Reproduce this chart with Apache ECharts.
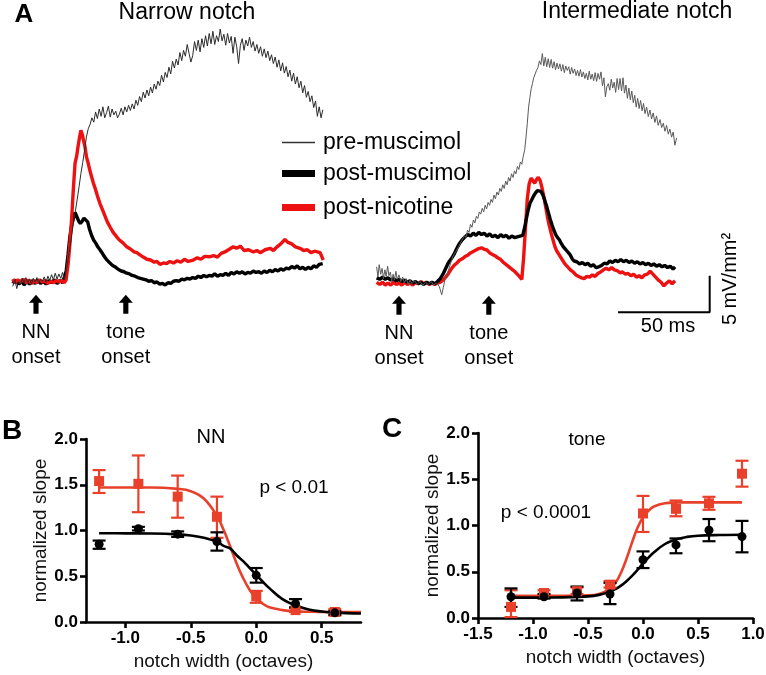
<!DOCTYPE html>
<html>
<head>
<meta charset="utf-8">
<script src="https://cdn.jsdelivr.net/npm/echarts@6/dist/echarts.min.js"></script>
<style>html,body{margin:0;padding:0;background:#fff}#c{width:766px;height:675px}</style>
</head>
<body>
<div id="c"></div>
<script>
// ---------- Panel A data (time in ms from NN onset, response in mV/mm^2) ----------
const preL = [[-12.7,-0.6],[-11.5,0.3],[-10.5,-0.9],[-9.5,0.1],[-8.5,-0.4],[-7.5,0.5],[-6.5,-0.2],[-5.5,0.6],[-4.5,-0.1],[-3.5,0.4],[-2.5,-0.3],[-1.5,0.5],[-0.5,0.0],[0.5,0.6],[1.5,-0.2],[2.5,0.4],[3.5,0.1],[4.5,0.7],[5.5,0.0],[6.5,0.8],[7.5,0.2],[8.5,1.0],[9.5,0.3],[10.5,1.2],[11.5,0.4],[12.5,1.1],[13.5,0.5],[14.5,1.3],[15.5,0.3],[16.5,1.5],[17.5,3.2],[18.5,4.6],[19.5,6.5],[20.5,8.2],[21.5,9.7],[22.5,11.3],[23.5,13.0],[24.5,14.8],[25.5,16.3],[26.5,18.0],[27.5,19.8],[28.5,20.9],[29.5,21.5],[30.5,22.4],[31.5,21.8],[32.5,23.2],[33.5,22.3],[34.5,23.6],[35.5,22.6],[36.5,23.9],[37.5,22.4],[38.5,23.1],[39.5,24.0],[40.5,22.5],[41.5,23.6],[42.5,22.8],[43.5,23.3],[44.5,22.4],[45.5,22.9],[46.5,23.7],[47.5,22.8],[48.5,23.9],[49.5,23.2],[50.5,24.1],[51.5,23.4],[52.5,24.3],[53.5,23.6],[54.5,24.8],[55.5,24.1],[56.5,25.3],[57.5,24.6],[58.5,25.9],[59.5,25.1],[60.5,26.2],[61.5,25.4],[62.5,26.6],[63.5,25.8],[64.5,27.0],[65.5,26.3],[66.5,27.4],[67.5,26.8],[68.5,28.2],[69.5,27.3],[70.5,28.6],[71.5,27.9],[72.5,29.3],[73.5,28.4],[74.5,30.1],[75.5,29.2],[76.5,30.4],[77.5,29.6],[78.5,31.3],[79.5,30.2],[80.5,31.6],[81.5,30.8],[82.5,32.4],[83.5,31.2],[84.5,30.0],[85.5,30.9],[86.5,32.8],[87.5,31.6],[88.5,33.0],[89.5,31.4],[90.5,33.2],[91.5,32.0],[92.5,33.6],[93.5,32.2],[94.5,33.9],[95.5,32.5],[96.5,34.2],[97.5,32.4],[98.5,33.6],[99.5,32.8],[100.5,34.5],[101.5,32.9],[102.5,33.8],[103.5,32.3],[104.5,33.9],[105.5,32.6],[106.5,33.5],[107.5,31.2],[108.5,33.4],[109.5,32.1],[110.5,29.8],[111.5,32.3],[112.5,33.2],[113.5,31.6],[114.5,33.0],[115.5,32.2],[116.5,33.4],[117.5,32.0],[118.5,32.8],[119.5,31.5],[120.5,32.4],[121.5,31.2],[122.5,32.1],[123.5,30.8],[124.5,31.8],[125.5,30.6],[126.5,31.5],[127.5,30.2],[128.5,31.0],[129.5,29.8],[130.5,30.7],[131.5,29.3],[132.5,30.3],[133.5,28.8],[134.5,29.9],[135.5,28.5],[136.5,29.4],[137.5,28.0],[138.5,28.9],[139.5,27.4],[140.5,28.5],[141.5,27.0],[142.5,28.0],[143.5,26.5],[144.5,27.4],[145.5,25.8],[146.5,26.8],[147.5,25.2],[148.5,26.0],[149.5,24.6],[150.5,25.4],[151.5,23.8],[152.5,24.7],[153.5,22.6],[154.5,23.9],[155.5,22.4],[156.5,23.5]];
const postMusL = [[-12.7,-0.2],[-11,0.3],[-9.5,-0.3],[-8,0.2],[-6.5,-0.4],[-5,0.1],[-3.5,-0.3],[-2,0.2],[-0.5,-0.2],[1,0.3],[2.5,-0.2],[4,0.1],[5.5,-0.3],[7,0.2],[8.5,-0.1],[10,0.3],[11.5,-0.2],[13,0.2],[14.5,-0.1],[15.5,0.1],[16.5,1.5],[17.5,3.8],[18.5,6.2],[19.5,7.8],[20.5,8.8],[21.3,9.5],[22.3,8.9],[23.3,8.3],[24.2,8.0],[25.2,8.3],[26.2,8.7],[27.2,8.9],[28.2,8.2],[29.2,7.2],[30.4,6.3],[31.5,5.7],[32.6,5.3],[33.7,4.8],[34.9,4.4],[36,4.0],[37.2,3.5],[38.4,3.1],[39.5,2.8],[40.5,2.6],[42,2.2],[43.5,2.0],[45,1.7],[46.5,1.5],[48,1.4],[49.5,1.2],[51,1.1],[52.5,0.9],[54,0.8],[55.5,0.6],[57,0.5],[58.5,0.4],[60,0.3],[61.5,0.1],[63,0.2],[64.5,-0.1],[66,0.0],[67.5,-0.3],[69,-0.2],[70.5,-0.4],[72,-0.1],[73.5,-0.2],[75,0.1],[76.5,0.2],[78,0.1],[79.5,0.4],[81,0.3],[82.5,0.5],[84,0.4],[85.5,0.6],[87,0.5],[88.5,0.8],[90,0.6],[91.5,0.9],[93,0.7],[94.5,0.9],[96,0.8],[97.5,1.1],[99,0.8],[100.5,1.0],[102,0.9],[103.5,1.2],[105,0.9],[106.5,1.3],[108,1.1],[109.5,1.4],[111,1.2],[112.5,1.4],[114,1.1],[115.5,1.3],[117,1.2],[118.5,1.5],[120,1.3],[121.5,1.4],[123,1.2],[124.5,1.5],[126,1.3],[127.5,1.6],[129,1.4],[130.5,1.7],[132,1.5],[133.5,1.8],[135,1.6],[136.5,1.9],[138,1.8],[139.5,2.1],[141,1.9],[142.5,2.2],[144,1.8],[145.5,2.0],[147,1.7],[148.5,2.0],[150,1.8],[151.5,2.2],[153,2.0],[154.5,2.4],[155.5,2.2],[156.4,2.5]];
const postNicL = [[-12.7,0.4],[-11.5,-0.1],[-10,0.3],[-8.5,0.0],[-7,0.4],[-5.5,-0.1],[-4,0.3],[-2.5,-0.2],[-1,0.2],[0.5,-0.1],[2,0.3],[3.5,0.0],[5,0.2],[6.5,-0.2],[8,0.1],[9.5,-0.1],[11,0.2],[12.5,0.0],[14,0.2],[15.5,-0.1],[16.4,0.3],[17.6,2.6],[18.6,5.5],[19.5,8.9],[20.4,12.8],[21.3,16.2],[22.2,17.2],[23,18.6],[23.8,19.8],[24.5,20.7],[25.3,20.1],[26,19.2],[26.7,18.5],[27.6,17.0],[28.5,16.2],[29.4,15.2],[30.3,14.4],[31.3,13.5],[32.5,12.6],[33.7,11.6],[34.9,10.7],[36.2,9.9],[37.5,9.1],[38.9,8.2],[40.4,7.5],[42,6.8],[43.6,6.3],[45.2,5.8],[47.6,5.3],[49.5,4.8],[51.5,4.5],[53.5,4.1],[55,4.0],[56.7,3.7],[58.5,3.4],[60.5,3.1],[62.5,3.0],[64.5,2.7],[66,2.8],[67.6,2.4],[69.5,2.6],[71.3,2.5],[73,2.8],[75,2.6],[77,2.9],[79,2.7],[81,3.1],[83,2.8],[85.8,3.0],[88,3.3],[90,3.1],[92,3.5],[95,3.45],[97,3.6],[99,3.4],[101,3.9],[103,4.1],[105,4.4],[107.6,4.8],[109.5,4.6],[111.5,4.9],[113.5,4.3],[116,4.4],[118.6,4.1],[120.5,4.3],[122.5,4.0],[125,4.4],[127.7,4.6],[129.5,4.3],[131.5,4.8],[133.5,5.2],[135.8,5.8],[137.5,5.4],[139.5,5.2],[141.5,4.8],[144,4.6],[146,4.3],[148,4.4],[150,4.0],[152,4.2],[153.5,4.1],[155,4.0],[156.7,3.0]];
const preR = [[-12.2,2.2],[-11.5,0.8],[-10.8,2.5],[-10,1.2],[-9.2,2.0],[-8.5,0.6],[-7.7,1.8],[-7,0.9],[-6.2,2.3],[-5.5,1.0],[-4.7,1.5],[-4,0.3],[-3.2,1.2],[-2.5,0.4],[-1.7,1.6],[-1,0.5],[0,1.1],[1,0.2],[2,0.8],[3,0.0],[4,0.6],[5,-0.2],[6,0.4],[7,-0.1],[8.5,0.3],[10,-0.2],[11.5,0.2],[13,-0.3],[14.5,0.1],[16,-0.2],[17.5,0.2],[19,-0.3],[20.5,0.0],[22,-0.5],[23.3,-1.6],[24.2,-0.6],[25,0.4],[26,1.0],[27,1.8],[27.8,2.4],[28.6,3.0],[29.4,3.6],[30.2,3.5],[31,4.3],[31.8,4.1],[32.6,5.0],[33.4,4.8],[34.2,5.8],[35,5.6],[35.8,6.5],[36.6,6.2],[37.4,7.2],[38.2,6.9],[39,8.0],[39.8,7.6],[40.6,8.6],[41.4,8.2],[42.2,9.1],[43,8.8],[43.8,9.7],[44.6,9.4],[45.4,10.2],[46.2,9.7],[47,10.6],[47.8,10.1],[48.6,11.0],[49.4,10.6],[50.2,11.4],[51,11.0],[51.8,12.0],[52.6,11.5],[53.4,12.4],[54.2,12.0],[55,12.9],[55.8,12.5],[56.6,13.4],[57.4,12.9],[58.2,13.9],[59,13.4],[59.8,14.4],[60.6,13.9],[61.4,14.9],[62.2,14.4],[63,15.3],[63.8,14.9],[64.6,15.9],[65.4,15.5],[66.2,16.5],[67,16.2],[67.8,17.3],[68.6,18.2],[69.3,19.9],[70,21.8],[70.7,24.0],[71.4,25.3],[72.1,26.5],[72.8,27.2],[73.5,28.0],[74.2,28.2],[75,29.0],[75.8,29.4],[76.6,30.3],[77.4,29.8],[78.2,31.3],[79,29.6],[79.8,30.8],[80.6,29.5],[81.4,30.6],[82.2,29.4],[83,30.5],[83.8,29.3],[84.6,30.2],[85.4,29.1],[86.2,30.0],[87,29.2],[87.8,29.9],[88.6,28.9],[89.4,29.8],[90.2,28.7],[91,29.6],[91.8,29.0],[92.6,29.5],[93.4,28.5],[94.2,29.4],[95,28.6],[95.8,29.2],[96.6,28.3],[97.4,29.0],[98.2,28.2],[99,29.1],[99.8,28.1],[100.6,28.8],[101.4,27.9],[102.2,28.6],[103,27.7],[103.8,28.9],[104.6,27.8],[105.4,28.5],[106.2,27.6],[107,28.7],[107.8,27.5],[108.6,28.6],[109.4,27.8],[110.2,28.8],[111,26.9],[111.8,28.0],[112.6,25.4],[113.4,26.8],[114.2,27.2],[115,26.3],[115.8,27.8],[116.6,26.6],[117.4,27.4],[118.2,26.0],[119,27.9],[119.8,26.4],[120.6,27.9],[121.4,26.2],[122.2,28.0],[123,25.9],[123.8,27.0],[124.6,25.2],[125.4,26.6],[126.2,25.0],[127,26.2],[127.8,24.6],[128.6,25.6],[129.4,24.0],[130.2,25.2],[131,23.8],[131.8,24.9],[132.6,23.5],[133.4,24.5],[134.2,23.1],[135.1,24.0],[136,22.7],[136.9,23.6],[137.8,22.4],[138.7,23.2],[139.6,21.9],[140.5,22.8],[141.4,21.5],[142.4,22.3],[143.3,21.2],[144.2,21.8],[145.1,20.7],[146,21.5],[146.9,20.3],[147.8,21.0],[148.7,19.9],[149.6,20.6],[150.5,18.8],[151.5,19.8]];
const postMusR = [[-12.2,0.7],[-10.5,0.5],[-9,0.8],[-7.5,0.5],[-6,0.7],[-4.5,0.4],[-3,0.6],[-1.5,0.3],[0,0.5],[1.5,0.2],[3,0.4],[4.5,0.1],[6,0.3],[7.5,0.0],[9,0.2],[10.5,-0.1],[12,0.1],[13.5,-0.2],[15,0.1],[16.5,-0.1],[18,0.1],[19.5,-0.1],[21,0.2],[22.5,0.6],[24,1.2],[25.5,2.0],[27,2.8],[28.5,3.3],[30,3.9],[31.5,4.7],[33,5.4],[34.5,5.9],[36,6.3],[37.5,6.6],[39,6.4],[40.5,6.8],[42,6.5],[43.5,6.9],[45,6.6],[46.5,6.8],[48,6.4],[49.5,6.7],[51,6.3],[52.5,6.5],[54,6.2],[55.5,6.6],[57,6.3],[58.5,6.5],[60,6.1],[61.5,6.4],[63,6.2],[64.5,6.3],[66,6.4],[67.5,6.5],[68.5,7.5],[69.5,8.8],[70.5,10.0],[71.5,10.9],[72.5,11.4],[73.5,11.9],[74.5,12.3],[75.5,12.6],[76.5,12.7],[77.5,12.5],[78.5,12.0],[79.5,11.3],[80.5,10.5],[81.5,9.6],[82.5,8.7],[83.5,7.9],[84.5,7.2],[85.5,6.6],[86.5,6.2],[87.5,5.9],[88.5,5.4],[89.5,5.0],[90.5,4.7],[91.5,4.4],[92.5,4.1],[93.5,3.8],[94.5,3.3],[95.5,3.0],[97,2.9],[98.5,2.6],[100,2.8],[101.5,2.5],[103,2.7],[104.5,2.3],[106,2.5],[107.5,2.1],[109,2.2],[110.5,2.4],[112,2.7],[113.5,2.6],[115,3.0],[116.5,2.8],[118,3.1],[119.5,2.9],[121,3.2],[122.5,2.9],[124,3.1],[125.5,2.8],[127,3.0],[128.5,2.7],[130,2.9],[131.5,2.6],[133,2.8],[134.5,2.5],[136,2.7],[137.5,2.4],[139,2.6],[140.5,2.3],[142,2.5],[143.5,2.2],[145,2.4],[146.5,2.1],[148,2.3],[149.5,1.9],[150.6,2.2]];
const postNicR = [[-12.2,0.1],[-10.5,-0.2],[-9,0.1],[-7.5,-0.3],[-6,0.0],[-4.5,-0.3],[-3,0.1],[-1.5,-0.2],[0,0.0],[1.5,-0.3],[3,0.1],[4.5,-0.2],[6,0.0],[7.5,-0.3],[9,0.1],[10.5,-0.1],[12,0.2],[13.5,-0.1],[15,0.1],[16.5,-0.2],[18,0.0],[19.5,-0.2],[21,0.0],[22.5,0.1],[24,0.4],[25.5,0.8],[27,1.3],[28.5,1.9],[30,2.4],[31.5,2.7],[33,3.1],[34.5,3.3],[36,3.6],[37.5,3.8],[39,4.1],[40.5,4.3],[42,4.5],[43.5,4.7],[45,4.8],[46.5,4.6],[48,4.5],[49.5,4.1],[51,3.9],[52.5,3.7],[54,3.4],[55.5,3.2],[57,2.8],[58.5,2.5],[60,2.2],[61.5,1.9],[63,1.6],[64.5,1.2],[66,0.8],[67,0.5],[68,3.5],[69,7.5],[70,11.5],[71,13.5],[72,14.3],[73,14.0],[74,13.6],[75,14.1],[76,14.4],[77,14.0],[78,13.0],[79,11.8],[80,10.4],[81,9.0],[82,7.8],[83,6.8],[84,5.9],[85,5.0],[86,4.4],[87.5,3.8],[89,3.2],[90.5,2.6],[92,2.2],[93.5,1.8],[95,1.5],[96.5,1.1],[98,0.9],[99.5,0.7],[101,0.6],[102.5,0.9],[104,0.8],[105.5,1.1],[107,0.9],[108.5,1.3],[110,1.5],[111.5,1.8],[113,2.0],[114.5,1.8],[116,2.1],[117.5,1.8],[119,1.7],[120.5,1.4],[122,1.5],[123.5,1.2],[125,1.3],[126.5,1.0],[128,1.2],[129.5,0.8],[131,1.0],[132.5,0.7],[134,1.1],[135.5,1.2],[137,1.6],[138.5,1.2],[140,0.8],[141.5,0.4],[143,0.1],[144.5,-0.4],[146,0.0],[147.5,0.3],[149,-0.1],[150.6,0.3]];
const onsetTimes = [0, 49];
const onsetLabels = ['NN\nonset', 'tone\nonset'];
const traceNames = ['pre-muscimol', 'post-muscimol', 'post-nicotine'];

// ---------- Panel B (NN) ----------
const notchB = [-1.2, -0.9, -0.6, -0.3, 0.0, 0.3, 0.6];
const nnMus = [0.85, 1.02, 0.96, 0.88, 0.51, 0.20, 0.10];
const nnMusLo = [0.80, 1.00, 0.93, 0.78, 0.43, 0.16, 0.08];
const nnMusHi = [0.89, 1.04, 0.99, 0.98, 0.59, 0.25, 0.12];
const nnNic = [1.54, 1.51, 1.37, 1.15, 0.28, 0.13, 0.11];
const nnNicLo = [1.41, 1.20, 1.14, 0.92, 0.21, 0.11, 0.07];
const nnNicHi = [1.66, 1.82, 1.60, 1.37, 0.34, 0.15, 0.14];
const fitXB = [-1.2, -1.0, -0.8, -0.6, -0.5, -0.4, -0.3, -0.25, -0.2, -0.15, -0.1, -0.05, 0, 0.05, 0.1, 0.2, 0.3, 0.4, 0.5, 0.6, 0.8];
const nnMusFit = [0.97, 0.969, 0.967, 0.958, 0.946, 0.92, 0.88, 0.832, 0.805, 0.73, 0.665, 0.59, 0.515, 0.44, 0.37, 0.25, 0.18, 0.137, 0.114, 0.102, 0.093];
const nnNicFit = [1.47, 1.47, 1.47, 1.455, 1.43, 1.35, 1.16, 1.01, 0.83, 0.64, 0.48, 0.35, 0.26, 0.20, 0.16, 0.13, 0.116, 0.112, 0.11, 0.11, 0.11];

// ---------- Panel C (tone) ----------
const notchC = [-1.2, -0.9, -0.6, -0.3, 0.0, 0.3, 0.6, 0.9];
const toneMus = [0.23, 0.23, 0.27, 0.26, 0.63, 0.79, 0.95, 0.88];
const toneMusLo = [0.12, 0.21, 0.19, 0.15, 0.54, 0.70, 0.83, 0.71];
const toneMusHi = [0.32, 0.26, 0.34, 0.38, 0.72, 0.86, 1.07, 1.05];
const toneNic = [0.12, 0.27, 0.29, 0.36, 1.13, 1.18, 1.24, 1.56];
const toneNicLo = [0.01, 0.25, 0.26, 0.33, 0.93, 1.10, 1.17, 1.42];
const toneNicHi = [0.30, 0.30, 0.33, 0.40, 1.32, 1.27, 1.31, 1.70];
const fitXC = [-1.2, -0.8, -0.5, -0.4, -0.3, -0.25, -0.2, -0.15, -0.1, -0.05, 0, 0.05, 0.1, 0.2, 0.3, 0.4, 0.5, 0.7, 0.9];
const toneMusFit = [0.22, 0.221, 0.234, 0.25, 0.285, 0.313, 0.35, 0.398, 0.455, 0.52, 0.59, 0.653, 0.71, 0.80, 0.85, 0.877, 0.89, 0.897, 0.90];
const toneNicFit = [0.24, 0.24, 0.245, 0.26, 0.315, 0.38, 0.49, 0.64, 0.815, 0.975, 1.09, 1.16, 1.205, 1.24, 1.248, 1.25, 1.25, 1.25, 1.25];

// ---------- build ----------
const FONT = "'Liberation Sans', Arial, Helvetica, sans-serif";
const RED_A = '#ee1111', RED_B = '#e8402a';
const zip = (a, b) => a.map((v, i) => [v, b[i]]);
const zip3 = (a, b, c) => a.map((v, i) => [v, b[i], c[i]]);
const ARROW = 'path://M6,0 L12,7 L8.2,7 L8.2,17 L3.8,17 L3.8,7 L0,7 Z';

function traceSeries(name, data, grid, color, width) {
  return { name, type: 'line', xAxisIndex: grid, yAxisIndex: grid, data, symbol: 'none', showSymbol: false,
    lineStyle: { color, width }, itemStyle: { color }, silent: true };
}
function arrowSeries(grid) {
  return { type: 'scatter', xAxisIndex: grid, yAxisIndex: grid, symbol: ARROW, symbolSize: [14, 19],
    itemStyle: { color: '#000', opacity: 1 }, silent: true, clip: false, z: 5,
    data: onsetTimes.map((t, i) => ({ value: [t, -3.05], name: onsetLabels[i] })),
    label: { show: true, position: 'bottom', distance: 6, formatter: '{b}', fontSize: 20, lineHeight: 25,
      fontFamily: FONT, color: '#000', textBorderWidth: 0, opacity: 1 } };
}
function errSeries(grid, data, color) {
  return { type: 'custom', xAxisIndex: grid, yAxisIndex: grid, data, encode: { x: 0, y: [1, 2] }, silent: true, z: 3,
    renderItem: function (params, api) {
      const x = api.value(0), lo = api.value(1), hi = api.value(2);
      const a = api.coord([x, lo]), b = api.coord([x, hi]);
      const w = 6.5, st = { stroke: color, lineWidth: 2.2 };
      return { type: 'group', children: [
        { type: 'line', shape: { x1: a[0], y1: a[1], x2: b[0], y2: b[1] }, style: st },
        { type: 'line', shape: { x1: a[0] - w, y1: a[1], x2: a[0] + w, y2: a[1] }, style: st },
        { type: 'line', shape: { x1: b[0] - w, y1: b[1], x2: b[0] + w, y2: b[1] }, style: st } ] };
    } };
}
function fitSeries(grid, xs, ys, color) {
  return { type: 'line', xAxisIndex: grid, yAxisIndex: grid, data: zip(xs, ys), smooth: 0.4, symbol: 'none',
    showSymbol: false, lineStyle: { color, width: 2.6 }, silent: true, z: 2 };
}
function ptSeries(grid, xs, ys, color, sym, size) {
  return { type: 'scatter', xAxisIndex: grid, yAxisIndex: grid, data: zip(xs, ys), symbol: sym, symbolSize: size,
    itemStyle: { color, opacity: 1 }, silent: true, z: 4, clip: false };
}
const hiddenX = (g, min, max) => ({ gridIndex: g, type: 'value', min, max, show: false, splitLine: { show: false } });
const hiddenY = g => ({ gridIndex: g, type: 'value', min: -8, max: 36, show: false, splitLine: { show: false } });
const axisCommon = {
  axisLine: { show: true, onZero: false, lineStyle: { color: '#000', width: 2.6 } },
  axisTick: { show: true, length: 6, lineStyle: { color: '#000', width: 2.6 } },
  splitLine: { show: false },
  axisLabel: { color: '#000', fontSize: 17, fontWeight: 'bold', fontFamily: FONT, margin: 8, formatter: v => v.toFixed(1) },
  nameLocation: 'middle',
  nameTextStyle: { fontSize: 19, fontFamily: FONT, color: '#111' }
};
function bcX(g, min, max, custom) {
  const ax = Object.assign({}, axisCommon, { gridIndex: g, type: 'value', min, max, name: 'notch width (octaves)', nameGap: 30 });
  if (custom) {
    ax.axisTick = Object.assign({}, axisCommon.axisTick, { customValues: custom });
    ax.axisLabel = Object.assign({}, axisCommon.axisLabel, { customValues: custom });
  } else { ax.interval = 0.5; }
  return ax;
}
function bcY(g, gap) {
  return Object.assign({}, axisCommon, { gridIndex: g, type: 'value', min: 0, max: 2, interval: 0.5, name: 'normalized slope', nameRotate: 90, nameGap: gap });
}
const K = 1.833; // px per ms (from 50 ms scale bar)
const V = 7.33;  // px per mV/mm^2

const txt = (text, x, y, size, extra) => ({ type: 'text', x, y, silent: true,
  style: Object.assign({ text, fontSize: size, fontFamily: FONT, fill: '#000', align: 'center', verticalAlign: 'middle' }, extra || {}) });

const option = {
  animation: false,
  backgroundColor: '#fff',
  grid: [
    { left: 36 - 15 * K, top: 282 - 36 * V, width: 175 * K, height: 44 * V, outerBoundsMode: 'none' },
    { left: 399 - 15 * K, top: 283 - 36 * V, width: 200 * K, height: 44 * V, outerBoundsMode: 'none' },
    { left: 86, top: 439, width: 275, height: 183, outerBoundsMode: 'none' },
    { left: 478, top: 433, width: 275, height: 185, outerBoundsMode: 'none' }
  ],
  xAxis: [ hiddenX(0, -15, 160), hiddenX(1, -15, 185), bcX(2, -1.3, 0.8, [-1.0, -0.5, 0.0, 0.5]), bcX(3, -1.5, 1.0) ],
  yAxis: [ hiddenY(0), hiddenY(1), bcY(2, 32), bcY(3, 29) ],
  legend: traceNames.map((n, i) => ({
    data: [{ name: n, icon: 'rect' }], left: 282, top: [131, 162, 196][i], padding: 0,
    itemWidth: 33, itemHeight: [1.5, 7, 7][i], selectedMode: false,
    itemStyle: { borderWidth: 0, color: ['#333', '#000', RED_A][i] },
    textStyle: { fontSize: 23, fontFamily: FONT, color: '#000', padding: [0, 0, 0, 3] }
  })),
  series: [
    traceSeries(traceNames[1], postMusL, 0, '#000', 3.4),
    traceSeries(traceNames[2], postNicL, 0, RED_A, 3.4),
    traceSeries(traceNames[0], preL, 0, '#2b2b2b', 1),
    arrowSeries(0),
    traceSeries(traceNames[2], postNicR, 1, RED_A, 3.4),
    traceSeries(traceNames[1], postMusR, 1, '#000', 3.4),
    traceSeries(traceNames[0], preR, 1, '#5a5a5a', 1),
    arrowSeries(1),
    { type: 'line', xAxisIndex: 1, yAxisIndex: 1, symbol: 'none', silent: true,
      data: [[119.5, -4], [119.5 + 50, -4], [119.5 + 50, -4 + 5]], lineStyle: { color: '#000', width: 2 } },
    fitSeries(2, fitXB, nnNicFit, RED_B),
    fitSeries(2, fitXB, nnMusFit, '#000'),
    errSeries(2, zip3(notchB, nnNicLo, nnNicHi), RED_B),
    errSeries(2, zip3(notchB, nnMusLo, nnMusHi), '#000'),
    ptSeries(2, notchB, nnNic, RED_B, 'rect', 10),
    ptSeries(2, notchB, nnMus, '#000', 'circle', 9),
    fitSeries(3, fitXC, toneNicFit, RED_B),
    fitSeries(3, fitXC, toneMusFit, '#000'),
    errSeries(3, zip3(notchC, toneNicLo, toneNicHi), RED_B),
    errSeries(3, zip3(notchC, toneMusLo, toneMusHi), '#000'),
    ptSeries(3, notchC, toneNic, RED_B, 'rect', 10),
    ptSeries(3, notchC, toneMus, '#000', 'circle', 9)
  ],
  graphic: [
    txt('A', 24, 15, 26, { fontWeight: 'bold' }),
    txt('Narrow notch', 187, 13, 23),
    txt('Intermediate notch', 637, 12, 23),
    txt('50 ms', 668, 326, 20),
    Object.assign(txt('5 mV/mm²', 730, 279, 20), { rotation: Math.PI / 2 }),
    txt('B', 12, 431, 28, { fontWeight: 'bold' }),
    txt('NN', 211, 437, 20),
    txt('p < 0.01', 294, 488, 19),
    txt('C', 392, 429, 28, { fontWeight: 'bold' }),
    txt('tone', 587, 440, 19),
    txt('p < 0.0001', 546, 513, 19)
  ]
};
const chart = echarts.init(document.getElementById('c'), null, { renderer: 'canvas' });
chart.setOption(option);
</script>
</body>
</html>
